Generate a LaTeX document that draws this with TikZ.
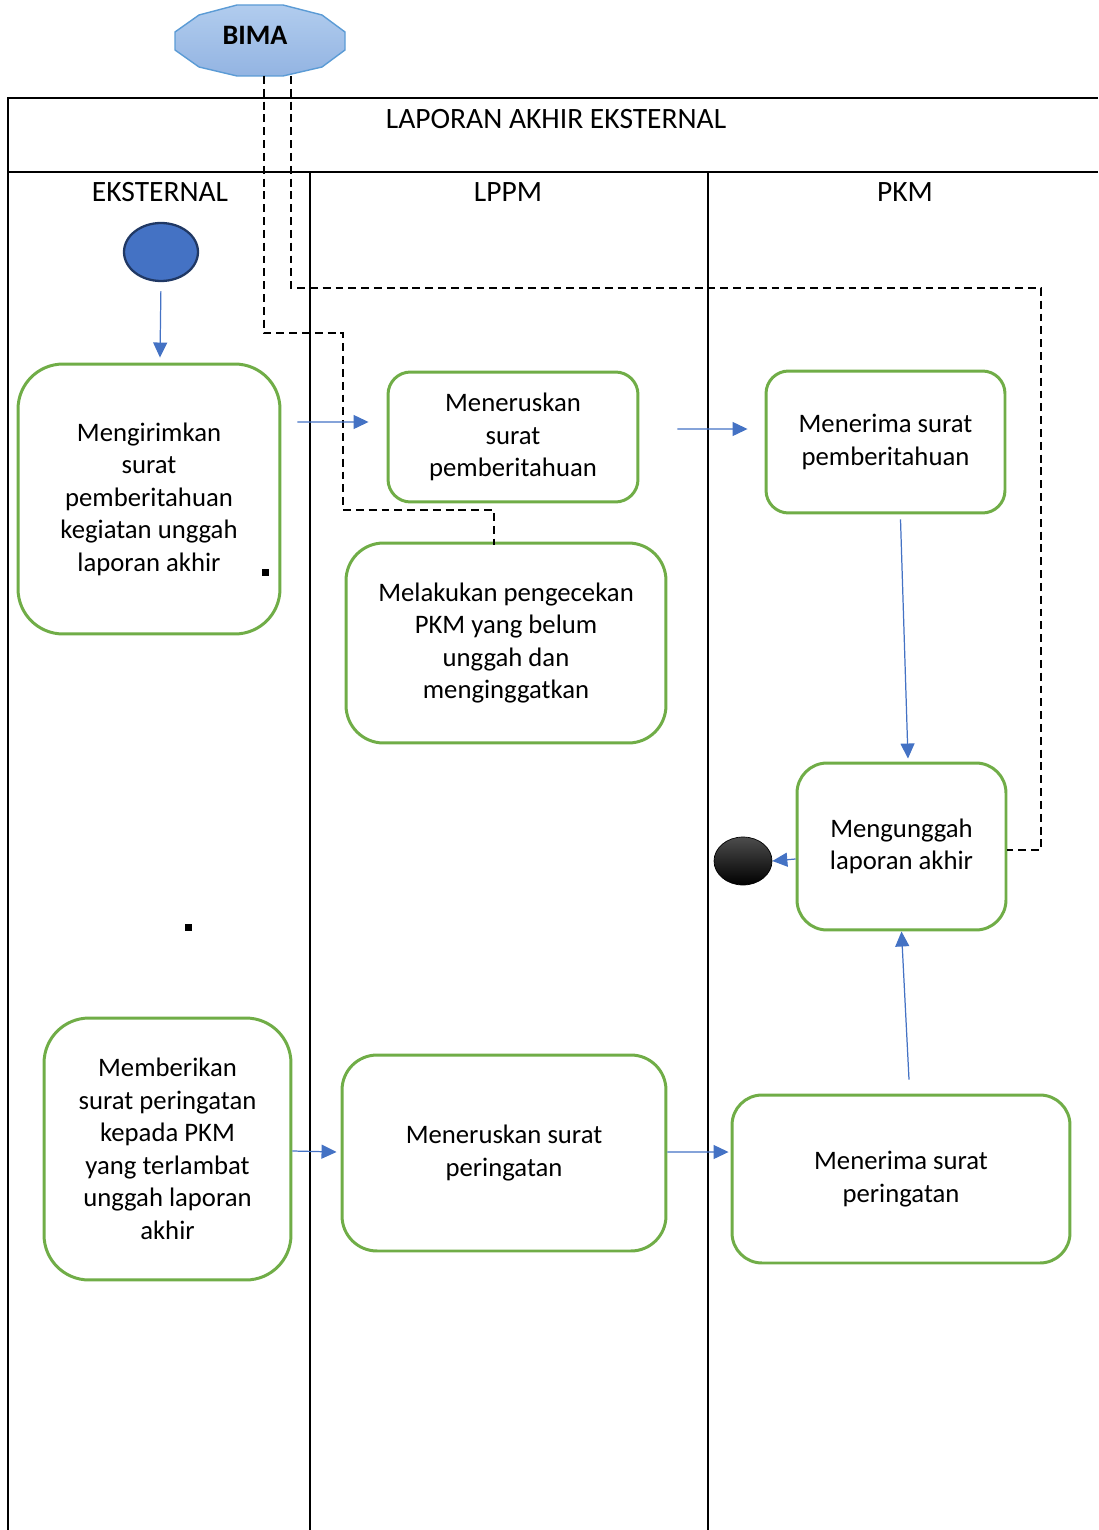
\documentclass[tikz,border=0pt]{standalone}
\usepackage{fontspec}
\setmainfont{Carlito}
\usetikzlibrary{arrows.meta,shapes.geometric}
\definecolor{flowblue}{HTML}{4472C4}
\definecolor{boxgreen}{HTML}{70AD47}
\definecolor{bimaline}{HTML}{5B9BD5}
\definecolor{bimatop}{HTML}{B1CCEE}
\definecolor{bimabottom}{HTML}{93B4E2}
\definecolor{startline}{HTML}{203864}
\begin{document}
\begin{tikzpicture}[x=0.02cm,y=-0.02cm]
		\tikzstyle{lane} = [draw, line width=1.1pt, black]
		\tikzstyle{dashline} = [draw, line width=1pt, dash pattern=on 4.5pt off 2.8pt]
		\tikzstyle{flow} = [-{Triangle[length=0.3cm,width=0.28cm]}, flowblue, line width=0.7pt]
		\tikzstyle{box} = [draw=boxgreen, line width=1.7pt, fill=white, align=center, font=\fontsize{15.2}{18.5}\selectfont]
		\tikzstyle{invisible} = [outer sep=0,inner sep=0,minimum size=0]
		\tikzstyle{label} = [font=\fontsize{16.8}{20}\selectfont]
		\useasboundingbox (0,0) rectangle (1098,1530);
		% swimlanes
		\draw [lane] (8,1530) -- (8,98) -- (1098,98);
		\draw [lane] (8,172) -- (1098,172);
		\draw [lane] (310,172) -- (310,1530);
		\draw [lane] (708,172) -- (708,1530);
		\node [label] (t0) at (556,119) {LAPORAN AKHIR EKSTERNAL};
		\node [label] (t1) at (160,192) {EKSTERNAL};
		\node [label] (t2) at (508,192) {LPPM};
		\node [label] (t3) at (905,192) {PKM};
		
		% BIMA
		\draw [bimaline, line width=0.8pt, top color=bimatop, bottom color=bimabottom] (237,5) -- (283,5) -- (322,15) -- (345,32) -- (345,50) -- (322,67) -- (283,76) -- (237,76) -- (199,67) -- (175,50) -- (175,32) -- (199,15) -- cycle;
		\node [invisible, minimum width=3.4cm, minimum height=1.42cm] (v0) at (260,40.5) {};
		\node [font=\fontsize{16}{19}\selectfont\bfseries] at (255,35) {BIMA};
		
		\node [ellipse, minimum width=1.48cm, minimum height=1.16cm, fill=flowblue, draw=startline, line width=1.3pt] (v1) at (161,252) {};
		\node [ellipse, minimum width=1.16cm, minimum height=0.96cm, top color=black!70, bottom color=black, draw=black] (v10) at (743,861) {};
		
		\node [box, minimum width=5.24cm, minimum height=5.4cm, rounded corners=0.9cm] (v2) at (149,499) {Mengirimkan\\surat\\pemberitahuan\\kegiatan unggah\\laporan akhir};
		\node [box, minimum width=5cm, minimum height=2.6cm, rounded corners=0.45cm] (v3) at (513,437) {Meneruskan\\surat\\pemberitahuan};
		\node [box, minimum width=4.78cm, minimum height=2.84cm, rounded corners=0.45cm] (v4) at (885.5,442) {Menerima surat\\pemberitahuan};
		\node [box, minimum width=6.4cm, minimum height=4cm, rounded corners=0.75cm] (v5) at (506,643) {Melakukan pengecekan\\PKM yang belum\\unggah dan\\menginggatkan};
		\node [box, minimum width=4.18cm, minimum height=3.34cm, rounded corners=0.6cm] (v6) at (901.5,846.5) {Mengunggah\\laporan akhir};
		\node [box, minimum width=4.94cm, minimum height=5.24cm, rounded corners=0.9cm] (v7) at (167.5,1149) {Memberikan\\surat peringatan\\kepada PKM\\yang terlambat\\unggah laporan\\akhir};
		\node [box, minimum width=6.48cm, minimum height=3.92cm, rounded corners=0.7cm] (v8) at (504,1153) {Meneruskan surat\\peringatan};
		\node [box, minimum width=6.76cm, minimum height=3.36cm, rounded corners=0.6cm] (v9) at (901,1179) {Menerima surat\\peringatan};
		
		% stray marks
		\fill (261.5,568.5) rectangle (268.5,575.5);
		\fill (184.5,923.5) rectangle (191.5,930.5);
		
		% dashed links from BIMA
		\draw [dashline] ([xshift=0.08cm]v0.south) |- (343,333) -- (343,510) -| ([xshift=-0.24cm,yshift=-0.06cm]v5.north);
		\draw [dashline] ([xshift=0.62cm]v0.south) |- (1041,288) |- ([yshift=-0.07cm]v6.east);
		
		% flow arrows
		\draw [flow, shorten <=0.18cm] (v1.south) -- ([xshift=0.22cm,yshift=0.1cm]v2.north);
		\draw [flow] ([xshift=0.32cm,yshift=1.54cm]v2.east) -- ([xshift=-0.36cm,yshift=0.3cm]v3.west);
		\draw [flow] ([xshift=0.76cm,yshift=0.16cm]v3.east) -- ([xshift=-0.34cm,yshift=0.26cm]v4.west);
		\draw [flow] ([xshift=0.3cm,yshift=-0.1cm]v4.south) -- ([xshift=0.13cm,yshift=0.06cm]v6.north);
		\draw [flow] ([yshift=-0.25cm]v6.west) -- (v10.east);
		\draw [flow] ([xshift=0.16cm,yshift=0.28cm]v9.north) -- (v6.south);
		\draw [flow] ([yshift=-0.04cm]v7.east) -- ([xshift=-0.08cm,yshift=0.02cm]v8.west);
		\draw [flow] ([yshift=0.02cm]v8.east) -- ([xshift=-0.04cm,yshift=0.54cm]v9.west);
\end{tikzpicture}
\end{document}
